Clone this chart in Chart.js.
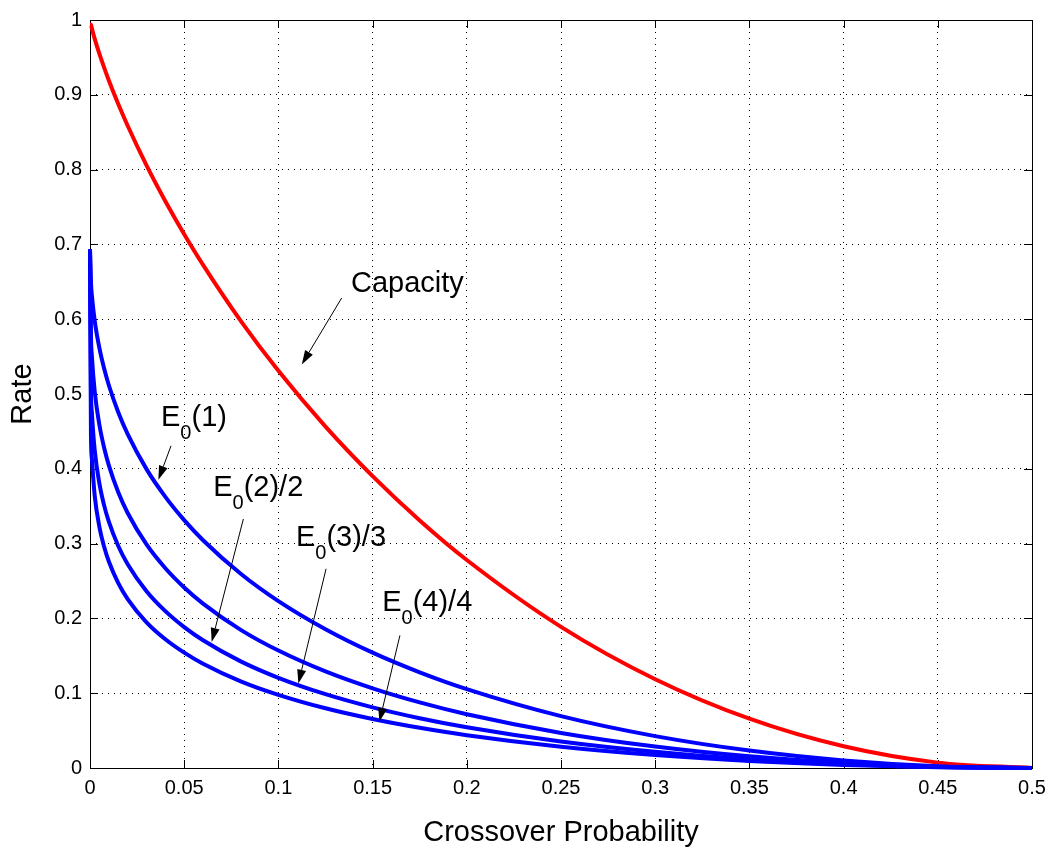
<!DOCTYPE html>
<html>
<head>
<meta charset="utf-8">
<script src="https://cdn.jsdelivr.net/npm/chart.js@4"></script>
<style>
    body { margin: 0; background: #fff; }
    #wrap { width: 1062px; height: 850px; }
</style>
</head>
<body>
<div id="wrap"><canvas id="rate-chart"></canvas></div>
<script>
// crossover probability samples (x) and the rate
var crossover = [0, 0.0005, 0.001, 0.0025, 0.005, 0.0075, 0.01, 0.015, 0.02, 0.03, 0.04, 0.05, 0.06,
    0.08, 0.1, 0.125, 0.15, 0.175, 0.2, 0.25, 0.3, 0.35, 0.4, 0.45, 0.5];
var capacity = [0.994, 0.9938, 0.9886, 0.9748, 0.9546, 0.9363, 0.9192, 0.8876, 0.8586, 0.8056, 0.7577, 0.7136, 0.6726,
    0.5978, 0.531, 0.4564, 0.3902, 0.331, 0.2781, 0.1887, 0.1187, 0.0659, 0.029, 0.0072, 0];
var e0rho1 = [0.6931, 0.6494, 0.6318, 0.5980, 0.5612, 0.5340, 0.5117, 0.4755, 0.4463, 0.3996, 0.3625, 0.3314, 0.3045,
    0.2597, 0.2231, 0.1855, 0.1542, 0.1279, 0.1054, 0.0693, 0.0426, 0.0233, 0.0102, 0.0025, 0];
var e0rho2 = [0.6931, 0.5788, 0.5506, 0.5033, 0.4585, 0.4281, 0.4046, 0.3686, 0.3409, 0.2989, 0.2671, 0.2414, 0.2198,
    0.1847, 0.1570, 0.1291, 0.1065, 0.0877, 0.0719, 0.0469, 0.0287, 0.0156, 0.0068, 0.0017, 0];
var e0rho3 = [0.6931, 0.5075, 0.4752, 0.4248, 0.3801, 0.3511, 0.3293, 0.2968, 0.2724, 0.2364, 0.2097, 0.1884, 0.1708,
    0.1426, 0.1206, 0.0987, 0.0811, 0.0666, 0.0545, 0.0354, 0.0216, 0.0117, 0.0051, 0.0013, 0];
var e0rho4 = [0.6931, 0.4460, 0.4132, 0.3640, 0.3221, 0.2957, 0.2760, 0.2472, 0.2259, 0.1948, 0.1721, 0.1542, 0.1394,
    0.1159, 0.0978, 0.0798, 0.0655, 0.0537, 0.0438, 0.0284, 0.0173, 0.0094, 0.0041, 0.0010, 0];

var xTicks = [0, 0.05, 0.1, 0.15, 0.2, 0.25, 0.3, 0.35, 0.4, 0.45, 0.5];
var xTickLabels = ['0', '0.05', '0.1', '0.15', '0.2', '0.25', '0.3', '0.35', '0.4', '0.45', '0.5'];
var yTicks = [0, 0.1, 0.2, 0.3, 0.4, 0.5, 0.6, 0.7, 0.8, 0.9, 1];
var yTickLabels = ['0', '0.1', '0.2', '0.3', '0.4', '0.5', '0.6', '0.7', '0.8', '0.9', '1'];

// text labels with arrows, in data units: [text x, text baseline y], arrow from -> to
var notes = [
    { main: 'Capacity', sub: '', rest: '', at: [0.1385, 0.637], from: [0.1336, 0.6284], to: [0.1124, 0.5396] },
    { main: 'E', sub: '0', rest: '(1)', at: [0.0377, 0.4573], from: [0.0430, 0.4307], to: [0.0363, 0.3853] },
    { main: 'E', sub: '0', rest: '(2)/2', at: [0.0654, 0.364], from: [0.0814, 0.3329], to: [0.0646, 0.1684] },
    { main: 'E', sub: '0', rest: '(3)/3', at: [0.1093, 0.2973], from: [0.1253, 0.2663], to: [0.1106, 0.1129] },
    { main: 'E', sub: '0', rest: '(4)/4', at: [0.1551, 0.2093], from: [0.1645, 0.1773], to: [0.1536, 0.0617] }
];

var FONT = '"Liberation Sans", Arial, Helvetica, sans-serif';

function points(values) {
    return crossover.map(function (p, i) {
        return { x: p, y: values[i] };
    });
}

function curve(values, color) {
    return {
        data: points(values),
        borderColor: color,
        borderWidth: 4,
        pointRadius: 0,
        fill: false,
        cubicInterpolationMode: 'monotone',
        clip: false
    };
}

function drawArrow(ctx, x1, y1, x2, y2) {
    var ang = Math.atan2(y2 - y1, x2 - x1);
    var len = 14, half = 4.5;
    var bx = x2 - len * Math.cos(ang);
    var by = y2 - len * Math.sin(ang);
    ctx.beginPath();
    ctx.moveTo(x1, y1);
    ctx.lineTo(bx, by);
    ctx.stroke();
    ctx.beginPath();
    ctx.moveTo(x2, y2);
    ctx.lineTo(bx + half * Math.sin(ang), by - half * Math.cos(ang));
    ctx.lineTo(bx - half * Math.sin(ang), by + half * Math.cos(ang));
    ctx.closePath();
    ctx.fill();
}

// matlab style box with inward ticks, plus the arrow labels
var matlabAxes = {
    id: 'matlabAxes',
    beforeDatasetsDraw: function (chart) {
        var ctx = chart.ctx, a = chart.chartArea;
        var xs = chart.scales.x, ys = chart.scales.y;
        var tick = 8;
        ctx.save();
        ctx.strokeStyle = '#000';
        ctx.lineWidth = 1;
        ctx.strokeRect(a.left + 0.5, a.top + 0.5, a.right - a.left, a.bottom - a.top);
        ctx.beginPath();
        xTicks.forEach(function (v) {
            var px = Math.round(xs.getPixelForValue(v)) + 0.5;
            ctx.moveTo(px, a.bottom);
            ctx.lineTo(px, a.bottom - tick);
            ctx.moveTo(px, a.top);
            ctx.lineTo(px, a.top + tick);
        });
        yTicks.forEach(function (v) {
            var py = Math.round(ys.getPixelForValue(v)) + 0.5;
            ctx.moveTo(a.left, py);
            ctx.lineTo(a.left + tick, py);
            ctx.moveTo(a.right, py);
            ctx.lineTo(a.right - tick, py);
        });
        ctx.stroke();
        ctx.restore();
    },
    afterDatasetsDraw: function (chart) {
        var ctx = chart.ctx;
        var xs = chart.scales.x, ys = chart.scales.y;
        ctx.save();
        ctx.strokeStyle = '#000';
        ctx.fillStyle = '#000';
        ctx.lineWidth = 1;
        notes.forEach(function (n) {
            drawArrow(ctx,
                xs.getPixelForValue(n.from[0]), ys.getPixelForValue(n.from[1]),
                xs.getPixelForValue(n.to[0]), ys.getPixelForValue(n.to[1]));
            var x = xs.getPixelForValue(n.at[0]);
            var y = ys.getPixelForValue(n.at[1]);
            ctx.textBaseline = 'alphabetic';
            ctx.textAlign = 'left';
            ctx.font = '29px ' + FONT;
            ctx.fillText(n.main, x, y);
            x += ctx.measureText(n.main).width;
            if (n.sub) {
                ctx.font = '20px ' + FONT;
                ctx.fillText(n.sub, x, y + 13);
                x += ctx.measureText(n.sub).width;
                ctx.font = '29px ' + FONT;
                ctx.fillText(n.rest, x, y);
            }
        });
        ctx.restore();
    }
};

new Chart(document.getElementById('rate-chart'), {
    type: 'line',
    data: {
        datasets: [
            curve(e0rho1, '#0000ff'),
            curve(e0rho2, '#0000ff'),
            curve(e0rho3, '#0000ff'),
            curve(e0rho4, '#0000ff'),
            curve(capacity, '#ff0000')
        ]
    },
    options: {
        responsive: true,
        maintainAspectRatio: false,
        animation: false,
        layout: { padding: { left: 0, right: 30, top: 18, bottom: 0 } },
        plugins: {
            legend: { display: false },
            tooltip: { enabled: false }
        },
        scales: {
            x: {
                type: 'linear',
                min: 0,
                max: 0.5,
                afterBuildTicks: function (scale) {
                    scale.ticks = xTicks.map(function (v) { return { value: v }; });
                },
                afterFit: function (scale) { scale.height = 82; },
                ticks: {
                    autoSkip: false,
                    maxRotation: 0,
                    padding: 8,
                    color: '#000',
                    font: { family: FONT, size: 20 },
                    callback: function (value, index) { return xTickLabels[index]; }
                },
                grid: { color: '#000', lineWidth: 1, drawTicks: false },
                border: { display: false, dash: [1, 5] },
                title: {
                    display: true,
                    text: 'Crossover Probability',
                    color: '#000',
                    font: { family: FONT, size: 29 },
                    padding: { top: 0, bottom: 0 }
                }
            },
            y: {
                type: 'linear',
                min: 0,
                max: 1,
                afterBuildTicks: function (scale) {
                    scale.ticks = yTicks.map(function (v) { return { value: v }; });
                },
                afterFit: function (scale) { scale.width = 90; },
                ticks: {
                    autoSkip: false,
                    padding: 8,
                    color: '#000',
                    font: { family: FONT, size: 20 },
                    callback: function (value, index) { return yTickLabels[index]; }
                },
                grid: { color: '#000', lineWidth: 1, drawTicks: false },
                border: { display: false, dash: [1, 5] },
                title: {
                    display: true,
                    text: 'Rate',
                    color: '#000',
                    font: { family: FONT, size: 29 },
                    padding: { top: 6, bottom: 0 }
                }
            }
        }
    },
    plugins: [matlabAxes]
});
</script>
</body>
</html>
